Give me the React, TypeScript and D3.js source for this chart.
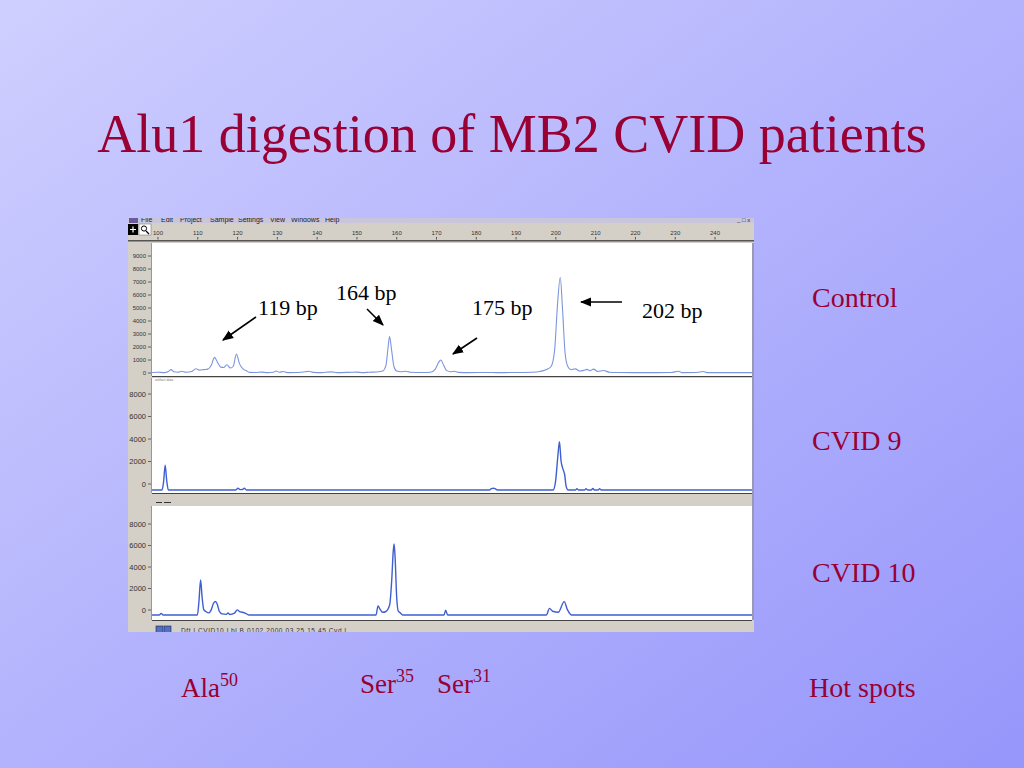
import React from 'react';
import * as d3 from 'd3';

// ruler (fragment size, bp)
const rulerTicks = [100, 110, 120, 130, 140, 150, 160, 170, 180, 190, 200, 210, 220, 230, 240];

// y-axis tick labels per panel
const controlYTicks = [0, 1000, 2000, 3000, 4000, 5000, 6000, 7000, 8000, 9000];
const cvidYTicks = [0, 2000, 4000, 6000, 8000];

// traces: [bp, fluorescence]
const controlTrace: [number, number][] = [
  [98.5, 40], [100, 60], [101.5, 30], [102.6, 120], [103.3, 260], [104, 90], [105, 60], [106, 140],
  [107, 60], [108.5, 120], [109.5, 330], [110.5, 220], [111.5, 260], [112.5, 300], [113.4, 600],
  [114.2, 1200], [115, 800], [115.8, 450], [116.5, 420], [117.3, 640], [118.2, 380], [118.9, 500],
  [119.7, 1450], [120.5, 700], [121.3, 330], [122.2, 180], [123, 50], [124.5, 40], [126, 70],
  [127.5, 30], [129, 60], [129.7, 150], [130.5, 60], [131.5, 110], [132.5, 30], [135, 40], [137, 90],
  [137.8, 130], [139, 50], [141, 30], [143.5, 90], [145, 30], [148, 50], [150, 70], [151.5, 30],
  [153, 60], [155, 80], [156.5, 150], [157.3, 600], [157.8, 1900], [158.2, 2800], [158.7, 1800],
  [159.3, 500], [160, 150], [161, 100], [162.3, 140], [163.5, 60], [166, 40], [168.5, 60],
  [169.7, 300], [170.5, 800], [171.1, 1000], [171.8, 600], [172.5, 200], [173.5, 100], [174.5, 140],
  [175.5, 50], [178, 30], [182, 40], [186, 30], [190, 40], [194, 60], [196, 120], [197.5, 250],
  [198.8, 500], [199.7, 1800], [200.4, 5200], [201.1, 7350], [201.7, 4800], [202.3, 1600], [203, 500],
  [203.8, 250], [204.9, 320], [206, 150], [207, 200], [207.8, 280], [208.6, 180], [209.5, 300],
  [210.5, 120], [212, 190], [213.5, 60], [216, 40], [220, 30], [225, 30], [229, 40], [230.8, 130],
  [231.8, 30], [235.5, 40], [237, 110], [238, 30], [243, 30], [249.5, 30],
];

const cvid9Trace: [number, number][] = [
  [98.5, 0], [101, 0], [101.4, 700], [101.8, 2200], [102.2, 800], [102.6, 0], [119.5, 0], [120.1, 150],
  [120.7, 30], [121.2, 40], [121.7, 150], [122.2, 0], [183.3, 0], [183.8, 120], [184.3, 160],
  [184.8, 100], [185.3, 0], [199.3, 0], [199.9, 700], [200.5, 3000], [200.9, 4300], [201.3, 2600],
  [201.8, 1850], [202.2, 1400], [202.6, 300], [203.1, 0], [204.9, 0], [205.3, 110], [205.7, 0],
  [207.2, 0], [207.6, 110], [208, 0], [208.9, 0], [209.3, 130], [209.7, 0], [210.6, 0], [211, 110],
  [211.4, 0], [249.5, 0],
];

const cvid10Trace: [number, number][] = [
  [98.5, 0], [100.3, 0], [100.8, 150], [101.3, 0], [109.9, 0], [110.3, 1300], [110.7, 3250],
  [111.1, 1600], [111.5, 500], [112.1, 300], [112.8, 200], [113.4, 500], [113.9, 1050], [114.4, 1250],
  [114.9, 1000], [115.4, 350], [116.1, 100], [117.2, 60], [117.6, 200], [118, 50], [119.3, 200],
  [119.9, 480], [120.5, 320], [121.2, 260], [122, 160], [122.8, 0], [154.8, 0], [155.3, 850],
  [155.8, 550], [156.5, 250], [157.2, 300], [158.2, 900], [158.8, 3600], [159.1, 5800], [159.35, 6600],
  [159.6, 5300], [160, 1600], [160.4, 350], [160.9, 200], [161.5, 0], [171.9, 0], [172.3, 450],
  [172.8, 0], [197.6, 0], [198.4, 620], [199.2, 350], [200.6, 250], [202.1, 1240], [202.9, 500],
  [204, 0], [249.5, 0],
];

const sampleLabels = ['Control', 'CVID 9', 'CVID 10'];
const peakLabels = ['119 bp', '164 bp', '175 bp', '202 bp'];
const hotSpots = [['Ala', '50'], ['Ser', '35'], ['Ser', '31']];
const menuItems = ['File', 'Edit', 'Project', 'Sample', 'Settings', 'View', 'Windows', 'Help'];

const RED = '#990033';
const GRAY = '#d4d0c8';
const SERIF = '"Liberation Serif", "Times New Roman", serif';
const SANS = '"Liberation Sans", Arial, sans-serif';

const App: React.FC = () => {
  const left = 128, right = 754, plotL = 152, plotR = 752;
  const x = d3.scaleLinear().domain([100, 240]).range([158, 715]);

  const panels = [
    { top: 243, bottom: 376, base: 373, topPx: 256, max: 9000, ticks: controlYTicks, dy: 0, fs: 6, data: controlTrace, color: '#7d95de', w: 1.1 },
    { top: 378, bottom: 493, base: 490, topPx: 400, max: 8000, ticks: cvidYTicks, dy: -6, fs: 7.5, data: cvid9Trace, color: '#3f5fd0', w: 1.4 },
    { top: 506, bottom: 620, base: 615, topPx: 529, max: 8000, ticks: cvidYTicks, dy: -5, fs: 7.5, data: cvid10Trace, color: '#3f5fd0', w: 1.4 },
  ];

  const menuX = [141, 161, 180, 210, 238, 270, 291, 325];
  const sampleY = [307, 450, 582];
  const notes = [
    { tx: 258, ty: 315, x1: 256, y1: 317, x2: 223, y2: 340 },
    { tx: 336, ty: 300, x1: 367, y1: 309, x2: 383, y2: 325 },
    { tx: 472, ty: 315, x1: 477, y1: 338, x2: 453, y2: 354 },
    { tx: 642, ty: 318, x1: 622, y1: 302, x2: 581, y2: 302 },
  ];
  const hotX = [181, 360, 437];
  const hotY = [697, 693, 693];

  return (
    <svg width={1024} height={768} style={{ position: 'absolute', left: 0, top: 0 }}>
      <defs>
        <linearGradient id="bg" x1="0" y1="0" x2="1" y2="1">
          <stop offset="0" stopColor="#cfcfff" />
          <stop offset="1" stopColor="#9696fb" />
        </linearGradient>
        <clipPath id="shot"><rect x={left} y={218} width={right - left} height={414} /></clipPath>
        <marker id="ah" viewBox="0 0 10 10" refX="9" refY="5" markerWidth="7" markerHeight="7" orient="auto">
          <path d="M0,1 L10,5 L0,9 Z" fill="#000" />
        </marker>
        {panels.map((p, i) => (
          <clipPath key={i} id={`pc${i}`}><rect x={plotL} y={p.top} width={plotR - plotL} height={p.bottom - p.top} /></clipPath>
        ))}
      </defs>
      <rect width={1024} height={768} fill="url(#bg)" />

      <text x={512} y={152} textAnchor="middle" fontFamily={SERIF} fontSize={54} fill={RED}>
        Alu1 digestion of MB2 CVID patients
      </text>

      {/* screenshot of the analysis software */}
      <g clipPath="url(#shot)">
        <rect x={left} y={218} width={right - left} height={414} fill={GRAY} />
        <rect x={left} y={218} width={right - left} height={5} fill="#c9c6dc" />
        <rect x={129} y={218} width={9} height={5} fill="#6a5c9a" />
        {menuItems.map((m, i) => (
          <text key={m} x={menuX[i]} y={222} fontFamily={SANS} fontSize={7} fill="#222">{m}</text>
        ))}
        <text x={737} y={222} fontFamily={SANS} fontSize={6} fill="#222">_ □ x</text>

        {/* ruler */}
        <rect x={128} y={224} width={10} height={11} fill="#000" />
        <path d="M130,229.5 H136 M133,226.5 V232.5" stroke="#fff" strokeWidth={1.2} />
        <rect x={139} y={224} width={12} height={11} fill="#fff" stroke="#666" strokeWidth={0.5} />
        <circle cx={144} cy={228.5} r={2.6} fill="none" stroke="#000" strokeWidth={1} />
        <path d="M146,231 L149,234" stroke="#000" strokeWidth={1.3} />
        {rulerTicks.map(t => (
          <g key={t}>
            <text x={x(t)} y={235} textAnchor="middle" fontFamily={SANS} fontSize={6} fill="#333">{t}</text>
            <line x1={x(t)} x2={x(t)} y1={237} y2={239.5} stroke="#555" strokeWidth={1} />
          </g>
        ))}
        <rect x={left} y={240} width={right - left} height={1.5} fill="#555" />

        {panels.map((p, i) => {
          const y = d3.scaleLinear().domain([0, p.max]).range([p.base, p.topPx]);
          const line = d3.line<[number, number]>().x(d => x(d[0])).y(d => y(d[1])).curve(d3.curveMonotoneX);
          return (
            <g key={i}>
              <rect x={plotL} y={p.top} width={plotR - plotL} height={p.bottom - p.top} fill="#fff" />
              <line x1={plotL} x2={plotR} y1={p.bottom + 0.5} y2={p.bottom + 0.5} stroke="#444" strokeWidth={1.2} />
              <line x1={plotL - 0.5} x2={plotL - 0.5} y1={p.top} y2={p.bottom} stroke="#888" strokeWidth={0.8} />
              {p.ticks.map(t => (
                <g key={t}>
                  <text x={146} y={y(t) + p.dy} dy="0.35em" textAnchor="end" fontFamily={SANS} fontSize={p.fs} fill="#333">{t}</text>
                  <line x1={148} x2={151} y1={y(t) + p.dy} y2={y(t) + p.dy} stroke="#444" strokeWidth={0.8} />
                </g>
              ))}
              <path d={line(p.data) ?? ''} fill="none" stroke={p.color} strokeWidth={p.w} clipPath={`url(#pc${i})`} />
            </g>
          );
        })}
        <text x={155} y={381} fontFamily={SANS} fontSize={3.5} fill="#777">artifact data</text>
        <path d="M156,502.5 H162 M164,502.5 H171" stroke="#333" strokeWidth={1.2} />
        <rect x={plotR} y={243} width={2} height={377} fill="#9a98b8" />

        {/* status bar */}
        <rect x={156} y={626} width={7} height={7} fill="#5070c8" stroke="#223" strokeWidth={0.6} />
        <rect x={164} y={626} width={7} height={7} fill="#5070c8" stroke="#223" strokeWidth={0.6} />
        <text x={181} y={633} fontFamily={SANS} fontSize={6.5} letterSpacing={0.6} fill="#333">Dft  l  CVID10  Lbl  B    0102 2000 03 25  15 45 Cvd  l</text>
      </g>

      {/* peak annotations */}
      {notes.map((n, i) => (
        <g key={peakLabels[i]}>
          <text x={n.tx} y={n.ty} fontFamily={SERIF} fontSize={22} fill="#000">{peakLabels[i]}</text>
          <line x1={n.x1} y1={n.y1} x2={n.x2} y2={n.y2} stroke="#000" strokeWidth={1.6} markerEnd="url(#ah)" />
        </g>
      ))}

      {sampleLabels.map((s, i) => (
        <text key={s} x={812} y={sampleY[i]} fontFamily={SERIF} fontSize={28} fill={RED}>{s}</text>
      ))}

      {hotSpots.map(([aa, pos], i) => (
        <text key={i} x={hotX[i]} y={hotY[i]} fontFamily={SERIF} fontSize={27} fill={RED}>
          {aa}<tspan fontSize={18} dy={-11}>{pos}</tspan>
        </text>
      ))}
      <text x={809} y={697} fontFamily={SERIF} fontSize={28} fill={RED}>Hot spots</text>
    </svg>
  );
};

export default App;
